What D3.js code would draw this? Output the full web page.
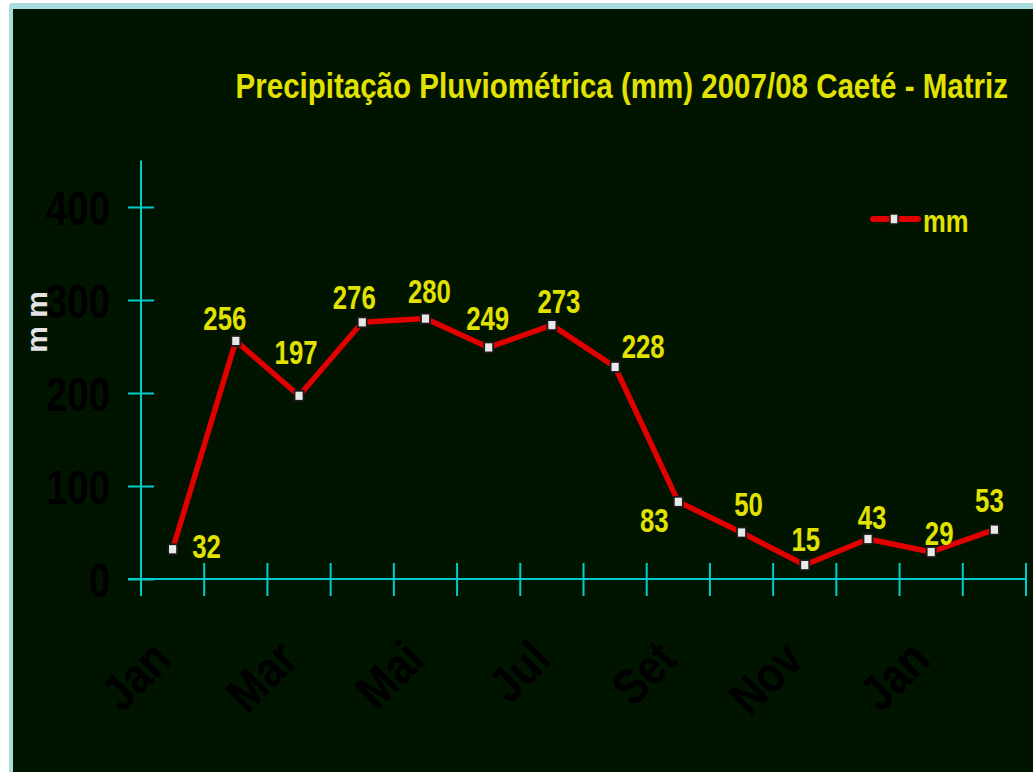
<!DOCTYPE html>
<html><head><meta charset="utf-8">
<script src="https://cdn.jsdelivr.net/npm/d3@7"></script>
<style>html,body{margin:0;padding:0;background:#fff;overflow:hidden}</style>
</head><body>
<svg id="c" width="1033" height="772"></svg>
<script>
const months = ["Jan","Fev","Mar","Abr","Mai","Jun","Jul","Ago","Set","Out","Nov","Dez","Jan","Fev"];
const shownLabels = ["Jan","","Mar","","Mai","","Jul","","Set","","Nov","","Jan",""];
const rainfall = [32,256,197,276,280,249,273,228,83,50,15,43,29,53];
const yTicks = [0,100,200,300,400];
const seriesName = "mm";
const titleText = "Precipitação Pluviométrica (mm) 2007/08 Caeté - Matriz";
const yTitle = "m m";
// manual label nudges (px) relative to each point, as placed in the original
const labelNudge = [[34,9],[-11,-11],[-3,-32],[-8,-13],[4,-16],[-1,-17],[7,-12],[28,-9],[-24,30],[7,-17],[1,-14],[4,-10],[8,-7],[-5,-18]];

const FONT = "'Liberation Sans',Arial,sans-serif";
const svg = d3.select("#c");
svg.append("rect").attr("x",9).attr("y",3).attr("width",1040).attr("height",780).attr("rx",3).attr("fill","#a9dcdc");
svg.append("rect").attr("x",13).attr("y",9).attr("width",1030).attr("height",770).attr("fill","#001400");

const x = d3.scaleBand().domain(d3.range(months.length)).range([141,1026]);
const y = d3.scaleLinear().domain([0,400]).range([579,207]);
const axisColor = "#00cccc";

// title
svg.append("text").attr("transform","translate(1008,98) scale(0.82,1)").attr("text-anchor","end")
  .attr("font-family",FONT).attr("font-weight","bold").attr("font-size",36)
  .attr("fill","#e2e200").text(titleText);

// y axis
const yAxisG = svg.append("g").attr("transform","translate(141,0)")
  .call(d3.axisLeft(y).tickValues(yTicks).tickSize(0).tickPadding(31).tickFormat(d3.format("d")));
yAxisG.select(".domain").remove();
yAxisG.append("line").attr("x1",0).attr("x2",0).attr("y1",y(450)).attr("y2",y(0)).attr("stroke",axisColor).attr("stroke-width",2);
yAxisG.selectAll(".tick").append("line").attr("x1",-13).attr("x2",13).attr("stroke",axisColor).attr("stroke-width",2);
yAxisG.selectAll(".tick text").attr("font-family",FONT).attr("font-weight","bold").attr("font-size",48)
  .attr("fill","#000").attr("dy","0.36em").attr("x",-31/0.8).attr("transform","scale(0.8,1)");

// x axis
const xAxisG = svg.append("g").attr("transform","translate(0,579)");
xAxisG.append("line").attr("x1",128).attr("x2",1027).attr("stroke",axisColor).attr("stroke-width",2);
const edges = d3.range(months.length+1).map(i => i < months.length ? x(i) : x(months.length-1)+x.bandwidth());
xAxisG.selectAll("line.tk").data(edges).join("line").attr("class","tk")
  .attr("x1",d=>d).attr("x2",d=>d).attr("y1",-16).attr("y2",17).attr("stroke",axisColor).attr("stroke-width",2);
xAxisG.selectAll("text.xl").data(shownLabels).join("text").attr("class","xl")
  .attr("transform",(d,i)=>`translate(${x(i)+x.bandwidth()/2+1},${83}) rotate(-45) scale(0.84,1)`)
  .attr("text-anchor","end").attr("font-family",FONT).attr("font-weight","bold").attr("font-size",50)
  .attr("fill","#000").text(d=>d);

// y title
svg.append("text").attr("transform","translate(47,322) rotate(-90)").attr("text-anchor","middle")
  .attr("font-family",FONT).attr("font-weight","bold").attr("font-size",30)
  .attr("fill","#e4e4e4").text(yTitle);

// line
const cx = i => x(i)+x.bandwidth()/2;
svg.append("path").datum(rainfall).attr("fill","none").attr("stroke","#e00000").attr("stroke-width",5.5)
  .attr("stroke-linejoin","round")
  .attr("d",d3.line().x((d,i)=>cx(i)).y(d=>y(d)));
svg.selectAll("rect.mk").data(rainfall).join("rect").attr("class","mk")
  .attr("x",(d,i)=>cx(i)-4.5).attr("y",d=>y(d)-5).attr("width",9).attr("height",10)
  .attr("fill","#e8e8e8").attr("stroke","#1a1a1a").attr("stroke-width",1.8);
svg.selectAll("text.lbl").data(rainfall).join("text").attr("class","lbl")
  .attr("transform",(d,i)=>`translate(${cx(i)+labelNudge[i][0]},${y(d)+labelNudge[i][1]}) scale(0.78,1)`)
  .attr("text-anchor","middle").attr("font-family",FONT).attr("font-weight","bold").attr("font-size",33)
  .attr("fill","#e2e200").text(d=>d);

// legend
const lg = svg.append("g");
lg.append("line").attr("x1",873).attr("x2",918).attr("y1",219).attr("y2",219).attr("stroke","#e00000").attr("stroke-width",6).attr("stroke-linecap","round");
lg.append("rect").attr("x",890).attr("y",214).attr("width",8).attr("height",10).attr("fill","#e8e8e8").attr("stroke","#1a1a1a").attr("stroke-width",1.5);
lg.append("text").attr("transform","translate(923,232) scale(0.8,1)").attr("font-family",FONT).attr("font-weight","bold").attr("font-size",32)
  .attr("fill","#e2e200").text(seriesName);
</script>
</body></html>
